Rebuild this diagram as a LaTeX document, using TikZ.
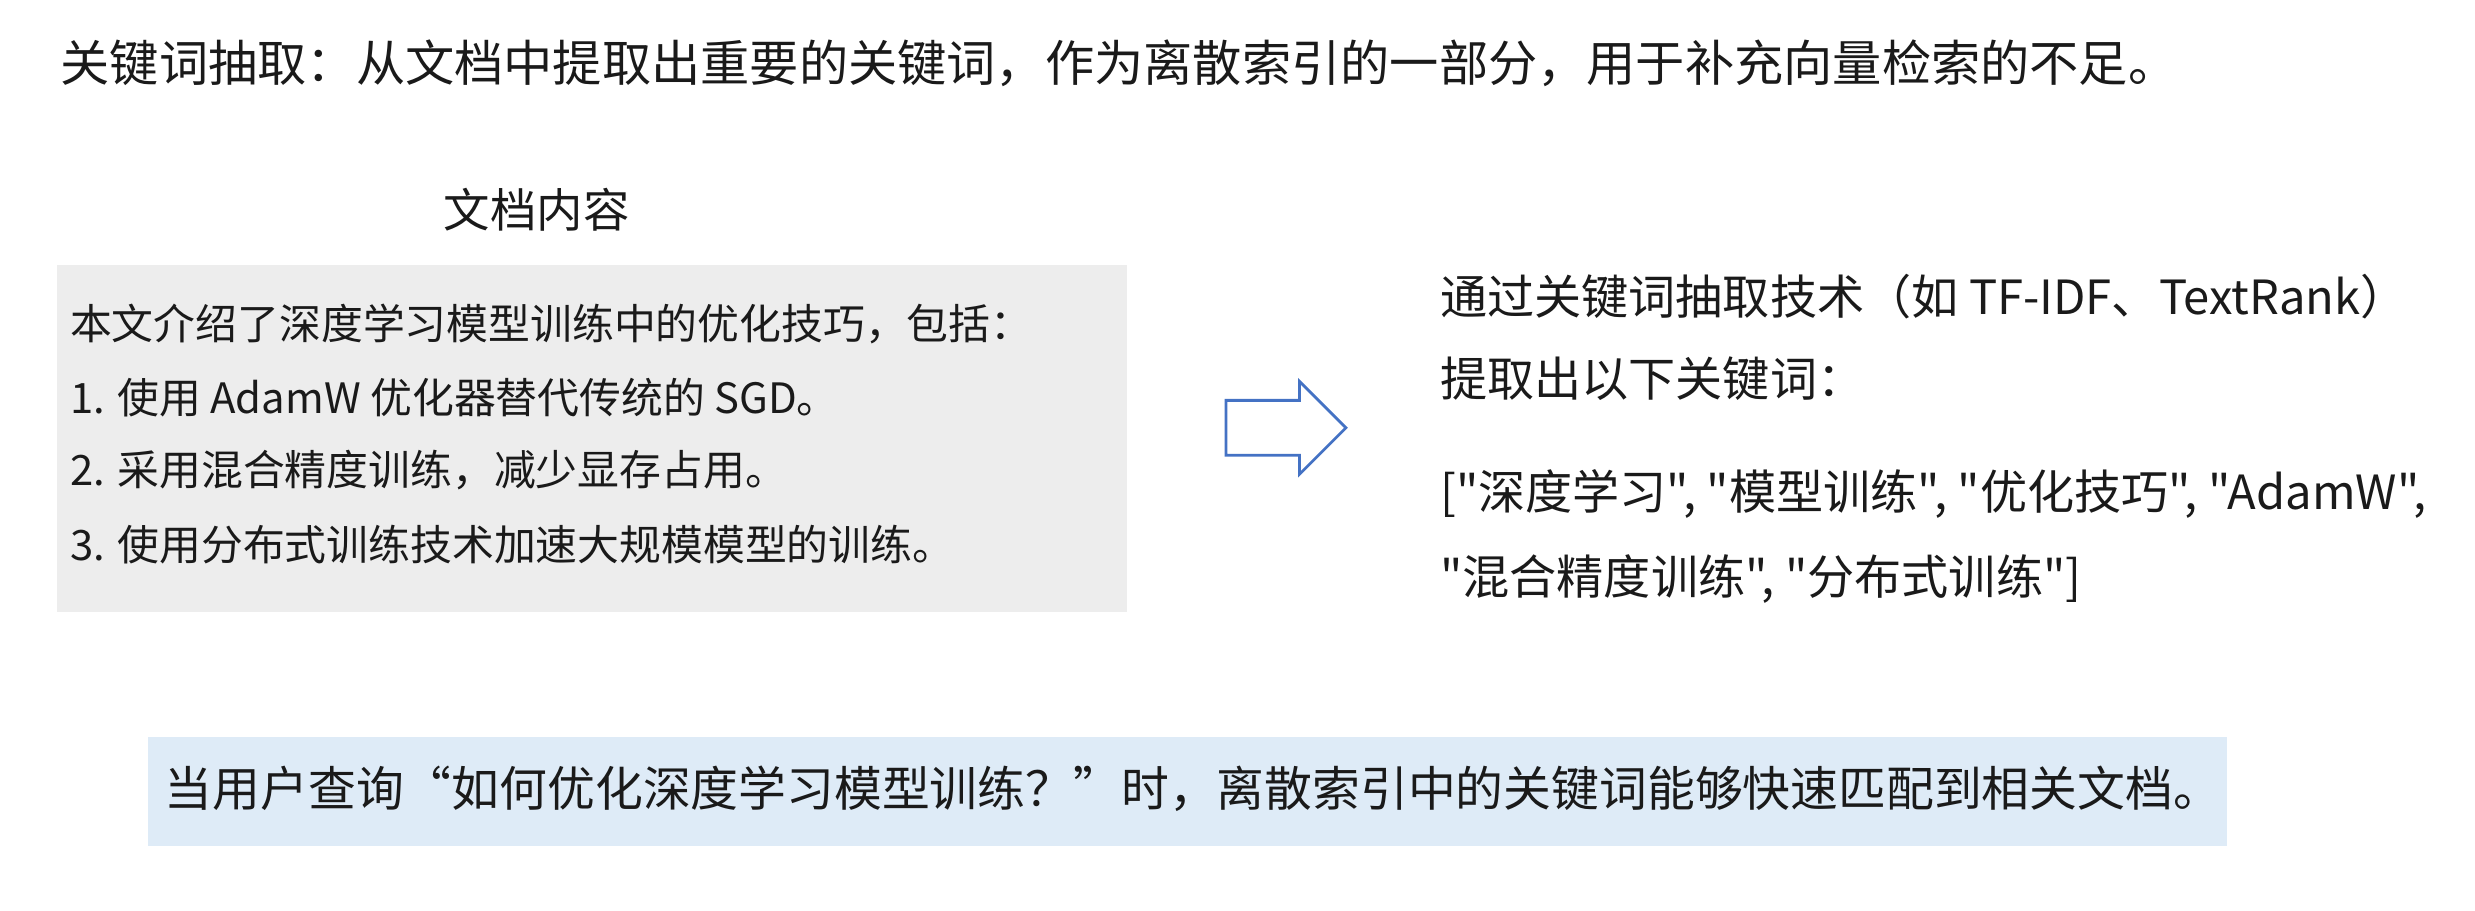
\documentclass[tikz,border=0pt]{standalone}
\usepackage{fontspec}
\setmainfont{Noto Sans CJK SC}[Ligatures=TeXOff]
\usepackage{xcolor}
\usepackage{tikz}
\usetikzlibrary{shapes.arrows}

\definecolor{docgray}{HTML}{EDEDED}
\definecolor{queryblue}{HTML}{DEEBF7}
\definecolor{arrowblue}{HTML}{4472C4}
\definecolor{ink}{HTML}{1A1A1A}

\begin{document}
\begin{tikzpicture}[x=0.01578cm, y=-0.01578cm,
    big/.style={anchor=west, inner sep=0, text=ink, font=\fontsize{14}{16}\selectfont},
    doc/.style={anchor=west, inner sep=0, text=ink, font=\fontsize{11.9}{14}\selectfont},
    kw/.style={anchor=west, inner sep=0, text=ink, font=\fontsize{13.4}{16}\selectfont}]
    \useasboundingbox (0,0) rectangle (1568,577);

    \node[big] (title) at (38, 40) {关键词抽取：从文档中提取出重要的关键词，作为离散索引的一部分，用于补充向量检索的不足。};

    \node[anchor=center, inner sep=0, text=ink, font=\fontsize{13.2}{15}\selectfont] (head) at (340, 133) {文档内容};
    \fill[docgray] (36, 168) rectangle (714, 388);
    \node[doc] (d0) at (44, 205) {本文介绍了深度学习模型训练中的优化技巧，包括：};
    \node[doc] (d1) at (44, 252) {1. 使用 AdamW 优化器替代传统的 SGD。};
    \node[doc] (d2) at (44, 298) {2. 采用混合精度训练，减少显存占用。};
    \node[doc] (d3) at (44, 345) {3. 使用分布式训练技术加速大规模模型的训练。};

    \node[single arrow, draw=arrowblue, fill=white, line width=0.8pt, inner xsep=0, inner ysep=0.26cm,
          minimum height=1.2cm, single arrow head extend=0.19cm] (arr) at (806, 271) {};

    \node[kw] (k0) at (912, 188) {通过关键词抽取技术（如 TF-IDF、TextRank）};
    \node[kw] (k1) at (912, 240) {提取出以下关键词：};
    \node[kw] (k2) at (912, 313) {["深度学习", "模型训练", "优化技巧", "AdamW",};
    \node[kw] (k3) at (912, 367) {"混合精度训练", "分布式训练"]};

    \fill[queryblue] (94, 467) rectangle (1411, 536);
    \node[big, font=\fontsize{13.6}{16}\selectfont] (query) at (104, 500) {当用户查询“如何优化深度学习模型训练？”时，离散索引中的关键词能够快速匹配到相关文档。};
\end{tikzpicture}
\end{document}
